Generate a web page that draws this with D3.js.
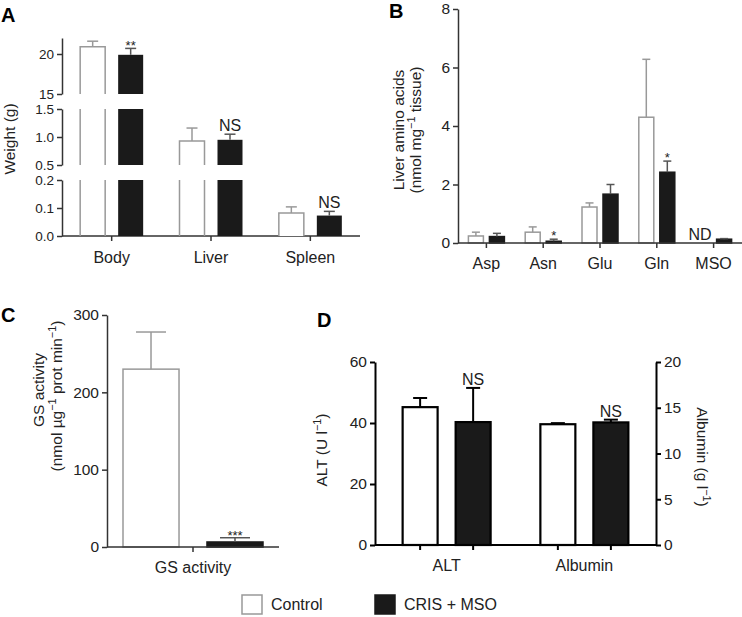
<!DOCTYPE html>
<html lang="en">
<head>
  <meta charset="UTF-8" />
  <title>Weights, amino acids, GS activity, serum</title>
  <style>
    body { margin: 0; background: #fff; }
    svg { display: block; }
    text { font-family: "Liberation Sans", Arial, sans-serif; fill: #222; }
    .tick text { font-size: 15.5px; }
    .seg .tick text { font-size: 13.5px; }
    .panel-letter { font-size: 20px; font-weight: bold; fill: #000; }
  </style>
</head>
<body>
  <div id="chart"></div>
  <script src="https://cdn.jsdelivr.net/npm/d3@7"></script>
  <script>
    // ---- data ----
    var series = ["Control", "CRIS + MSO"];

    var weightCats = ["Body", "Liver", "Spleen"];
    var weightControl = [20.9, 0.93, 0.082];
    var weightControlErr = [0.7, 0.23, 0.022];
    var weightTreat = [19.9, 0.95, 0.073];
    var weightTreatErr = [0.8, 0.10, 0.015];
    var weightSig = ["**", "NS", "NS"];

    var aaCats = ["Asp", "Asn", "Glu", "Gln", "MSO"];
    var aaControl = [0.24, 0.37, 1.23, 4.3, null];
    var aaControlErr = [0.13, 0.18, 0.14, 1.98, null];
    var aaTreat = [0.22, 0.06, 1.67, 2.42, 0.13];
    var aaTreatErr = [0.11, 0.07, 0.33, 0.38, 0.02];
    var aaSig = ["", "*", "", "*", ""];

    var gsCats = ["GS activity"];
    var gsControl = [230];
    var gsControlErr = [48];
    var gsTreat = [6.5];
    var gsTreatErr = [5.5];
    var gsSig = ["***"];

    var serumCats = ["ALT", "Albumin"];
    var serumControl = [45.2, 13.2];
    var serumControlErr = [3.0, 0.12];
    var serumTreat = [40.3, 13.4];
    var serumTreatErr = [11.2, 0.3];
    var serumSig = ["NS", "NS"];

    var W = 742, H = 617;
    var svg = d3.select("#chart").append("svg").attr("width", W).attr("height", H);

    var grey = "#999", dark = "#1a1a1a", axisCol = "#333";
    var FS = 16;

    function letter(t, x, y) {
      svg.append("text").attr("class", "panel-letter").attr("x", x).attr("y", y).text(t);
    }

    // text with superscript parts: [[str, isSup], ...]
    function richText(g, parts, size) {
      var t = g.append("text").attr("text-anchor", "middle").style("font-size", size + "px");
      var up = false;
      parts.forEach(function(p) {
        var ts = t.append("tspan").text(p[0]);
        if (p[1] && !up) { ts.attr("dy", -size * 0.38).style("font-size", (size * 0.7) + "px"); up = true; }
        else if (!p[1] && up) { ts.attr("dy", size * 0.38); up = false; }
        else if (p[1]) { ts.style("font-size", (size * 0.7) + "px"); }
      });
      return t;
    }

    function styleAxis(g, col, sw) {
      g.select(".domain").attr("stroke", col).attr("stroke-width", sw);
      g.selectAll(".tick line").attr("stroke", col).attr("stroke-width", sw);
      g.selectAll(".tick text").style("fill", "#222");
    }

    function xAxisLine(x0, x1, y, ticks, col, sw) {
      svg.append("line").attr("x1", x0).attr("x2", x1).attr("y1", y).attr("y2", y)
        .attr("stroke", col).attr("stroke-width", sw);
      svg.selectAll(null).data(ticks).enter().append("line")
        .attr("x1", function(d) { return d; }).attr("x2", function(d) { return d; })
        .attr("y1", y).attr("y2", y + 5).attr("stroke", col).attr("stroke-width", sw);
    }

    function errBar(x, yTop, yErr, col, cap, sw) {
      svg.append("line").attr("x1", x).attr("x2", x).attr("y1", yTop).attr("y2", yErr)
        .attr("stroke", col).attr("stroke-width", sw);
      svg.append("line").attr("x1", x - cap / 2).attr("x2", x + cap / 2).attr("y1", yErr).attr("y2", yErr)
        .attr("stroke", col).attr("stroke-width", sw);
    }

    function sigLabel(x, ye, s, starDy) {
      var isStar = s.indexOf("*") >= 0;
      svg.append("text").attr("x", x).attr("y", isStar ? ye + starDy : ye - 3)
        .attr("text-anchor", "middle").style("font-size", isStar ? "13px" : FS + "px").text(s);
    }

    // ================= Panel A (broken axis) =================
    letter("A", 1, 22);
    var axA = 62, baseA = 236;
    var xA = d3.scalePoint().domain(weightCats).range([axA, 360]).padding(0.5);
    var subA = d3.scaleBand().domain(series).range([-31.5, 31.5]).paddingInner(0.342);
    var segsA = [
      { y: d3.scaleLinear().domain([15, 22]).range([94, 38]), ticks: [15, 20], fmt: d3.format("d") },
      { y: d3.scaleLinear().domain([0.5, 1.5]).range([165, 109]), ticks: [0.5, 1.0, 1.5], fmt: d3.format(".1f") },
      { y: d3.scaleLinear().domain([0, 0.2]).range([baseA, 180]), ticks: [0, 0.1, 0.2], fmt: d3.format(".1f") }
    ];
    segsA.forEach(function(s) {
      var g = svg.append("g").attr("class", "seg").attr("transform", "translate(" + axA + ",0)")
        .call(d3.axisLeft(s.y).tickValues(s.ticks).tickFormat(s.fmt).tickSize(5).tickSizeOuter(0).tickPadding(3));
      styleAxis(g, axisCol, 1.5);
    });
    xAxisLine(axA, 360, baseA, weightCats.map(function(c) { return xA(c); }), axisCol, 1.5);

    function barsA(vals, errs, sIdx) {
      var filled = sIdx === 1;
      weightCats.forEach(function(c, i) {
        var x0 = xA(c) + subA(series[sIdx]), bw = subA.bandwidth(), v = vals[i];
        segsA.forEach(function(s) {
          var d = s.y.domain();
          if (v <= d[0]) return;
          var inSeg = v <= d[1];
          var yt = s.y(Math.min(v, d[1])), yb = s.y(d[0]);
          if (filled) {
            svg.append("rect").attr("x", x0).attr("y", yt).attr("width", bw).attr("height", yb - yt).attr("fill", dark);
          } else {
            var p = "M" + x0 + "," + yb + "V" + yt + (inSeg ? "H" + (x0 + bw) : "M" + (x0 + bw) + "," + yt) + "V" + yb;
            svg.append("path").attr("d", p).attr("fill", "#fff").attr("stroke", grey).attr("stroke-width", 1.5);
          }
          if (inSeg) {
            var ye = s.y(v + errs[i]);
            errBar(x0 + bw / 2, yt, ye, filled ? "#555" : grey, 11, 1.5);
            if (filled && weightSig[i]) sigLabel(x0 + bw / 2, ye, weightSig[i], 2);
          }
        });
      });
    }
    barsA(weightControl, weightControlErr, 0);
    barsA(weightTreat, weightTreatErr, 1);

    weightCats.forEach(function(c) {
      svg.append("text").attr("x", xA(c)).attr("y", 263).attr("text-anchor", "middle").style("font-size", FS + "px").text(c);
    });
    var tA = svg.append("g").attr("transform", "translate(15,139) rotate(-90)");
    richText(tA, [["Weight (g)", false]], 15.5);

    // ================= generic simple bar panel =================
    function simplePanel(o) {
      var g = svg.append("g").attr("transform", "translate(" + o.axX + ",0)")
        .call(d3.axisLeft(o.y).tickValues(o.ticks).tickSize(5).tickSizeOuter(0).tickPadding(3));
      styleAxis(g, o.axisCol, o.sw);
      o.cats.forEach(function(c, i) {
        [0, 1].forEach(function(sIdx) {
          var vals = sIdx ? o.treat : o.control, errs = sIdx ? o.treatErr : o.controlErr;
          var v = vals[i];
          var ys = o.yFor ? o.yFor(i) : o.y;
          var x0 = o.x(c) + o.sub(series[sIdx]), bw = o.sub.bandwidth();
          if (v == null) return;
          var yt = ys(v), yb = ys(0);
          svg.append("rect").attr("x", x0).attr("y", yt).attr("width", bw).attr("height", yb - yt)
            .attr("fill", sIdx ? dark : "#fff")
            .attr("stroke", sIdx ? o.darkStroke : o.lightStroke).attr("stroke-width", o.barSw);
          var ye = ys(v + errs[i]);
          errBar(x0 + bw / 2, yt, ye, sIdx ? o.darkErr : o.lightErr, o.cap, o.sw);
          if (sIdx && o.sig[i]) sigLabel(x0 + bw / 2, ye, o.sig[i], o.starDy);
        });
      });
    }

    // ================= Panel B =================
    letter("B", 389, 18);
    var yB = d3.scaleLinear().domain([0, 8]).range([243, 9]);
    var xB = d3.scalePoint().domain(aaCats).range([458, 742]).padding(0.5);
    var subB = d3.scaleBand().domain(series).range([-18, 18]).paddingInner(0.286);
    simplePanel({ axX: 458, y: yB, ticks: [0, 2, 4, 6, 8], x: xB, sub: subB, cats: aaCats,
      control: aaControl, controlErr: aaControlErr, treat: aaTreat, treatErr: aaTreatErr, sig: aaSig,
      axisCol: axisCol, sw: 1.5, barSw: 1.5, lightStroke: grey, darkStroke: dark,
      lightErr: grey, darkErr: "#555", cap: 8, starDy: 1 });
    xAxisLine(458, 742, 243, aaCats.map(function(c) { return xB(c); }), axisCol, 1.5);
    svg.append("text").attr("x", xB("MSO") + subB(series[0]) + subB.bandwidth() / 2 - 3).attr("y", 240)
      .attr("text-anchor", "middle").style("font-size", FS + "px").text("ND");
    aaCats.forEach(function(c) {
      svg.append("text").attr("x", xB(c)).attr("y", 269).attr("text-anchor", "middle").style("font-size", FS + "px").text(c);
    });
    var tB = svg.append("g").attr("transform", "translate(404,130) rotate(-90)");
    richText(tB, [["Liver amino acids", false]], 15.5);
    var tB2 = svg.append("g").attr("transform", "translate(421,130) rotate(-90)");
    richText(tB2, [["(nmol mg", false], ["\u22121", true], [" tissue)", false]], 15.5);

    // ================= Panel C =================
    letter("C", 1, 322);
    var yC = d3.scaleLinear().domain([0, 300]).range([547, 315]);
    var xC = d3.scalePoint().domain(gsCats).range([107, 279]).padding(0.5);
    var subC = d3.scaleBand().domain(series).range([-70, 70]).paddingInner(0.333);
    simplePanel({ axX: 107, y: yC, ticks: [0, 100, 200, 300], x: xC, sub: subC, cats: gsCats,
      control: gsControl, controlErr: gsControlErr, treat: gsTreat, treatErr: gsTreatErr, sig: gsSig,
      axisCol: axisCol, sw: 1.5, barSw: 1.5, lightStroke: grey, darkStroke: dark,
      lightErr: grey, darkErr: "#555", cap: 30, starDy: 2 });
    xAxisLine(107, 279, 547, gsCats.map(function(c) { return xC(c); }), axisCol, 1.5);
    svg.append("text").attr("x", xC("GS activity")).attr("y", 573).attr("text-anchor", "middle").style("font-size", FS + "px").text("GS activity");
    var tC = svg.append("g").attr("transform", "translate(44,390) rotate(-90)");
    richText(tC, [["GS activity", false]], 15.5);
    var tC2 = svg.append("g").attr("transform", "translate(62,396) rotate(-90)");
    richText(tC2, [["(nmol \u00b5g", false], ["\u22121", true], [" prot min", false], ["\u22121", true], [")", false]], 15.5);

    // ================= Panel D (dual axis) =================
    letter("D", 317, 327);
    var yDl = d3.scaleLinear().domain([0, 60]).range([545, 362]);
    var yDr = d3.scaleLinear().domain([0, 20]).range([545, 362]);
    var xD = d3.scalePoint().domain(serumCats).range([375, 656]).padding(0.52);
    var subD = d3.scaleBand().domain(series).range([-44, 44]).paddingInner(0.34);
    simplePanel({ axX: 375, y: yDl, yFor: function(i) { return i === 0 ? yDl : yDr; },
      ticks: [0, 20, 40, 60], x: xD, sub: subD, cats: serumCats,
      control: serumControl, controlErr: serumControlErr, treat: serumTreat, treatErr: serumTreatErr, sig: serumSig,
      axisCol: "#000", sw: 2, barSw: 2.2, lightStroke: "#000", darkStroke: "#000",
      lightErr: "#000", darkErr: "#000", cap: 14, starDy: 1 });
    var gR = svg.append("g").attr("transform", "translate(656,0)")
      .call(d3.axisRight(yDr).tickValues([0, 5, 10, 15, 20]).tickSize(5).tickSizeOuter(0).tickPadding(3));
    styleAxis(gR, "#000", 2);
    var dTicks = [];
    serumCats.forEach(function(c) {
      series.forEach(function(s) { dTicks.push(xD(c) + subD(s) + subD.bandwidth() / 2); });
    });
    xAxisLine(375, 656, 545, dTicks, "#000", 2);
    serumCats.forEach(function(c) {
      svg.append("text").attr("x", xD(c)).attr("y", 571).attr("text-anchor", "middle").style("font-size", FS + "px").text(c);
    });
    var tD = svg.append("g").attr("transform", "translate(327,450) rotate(-90)");
    richText(tD, [["ALT (U l", false], ["\u22121", true], [")", false]], 15.5);
    var tD2 = svg.append("g").attr("transform", "translate(697,457) rotate(90)");
    richText(tD2, [["Albumin (g l", false], ["\u22121", true], [")", false]], 15.5);

    // ================= Legend =================
    var leg = svg.append("g");
    var legX = [242, 375];
    series.forEach(function(s, i) {
      leg.append("rect").attr("x", legX[i]).attr("y", 595).attr("width", 20).attr("height", 19)
        .attr("fill", i ? dark : "#fff").attr("stroke", i ? dark : grey).attr("stroke-width", 1.5);
      leg.append("text").attr("x", legX[i] + 29).attr("y", 610).style("font-size", FS + "px").text(s);
    });
  </script>
</body>
</html>
